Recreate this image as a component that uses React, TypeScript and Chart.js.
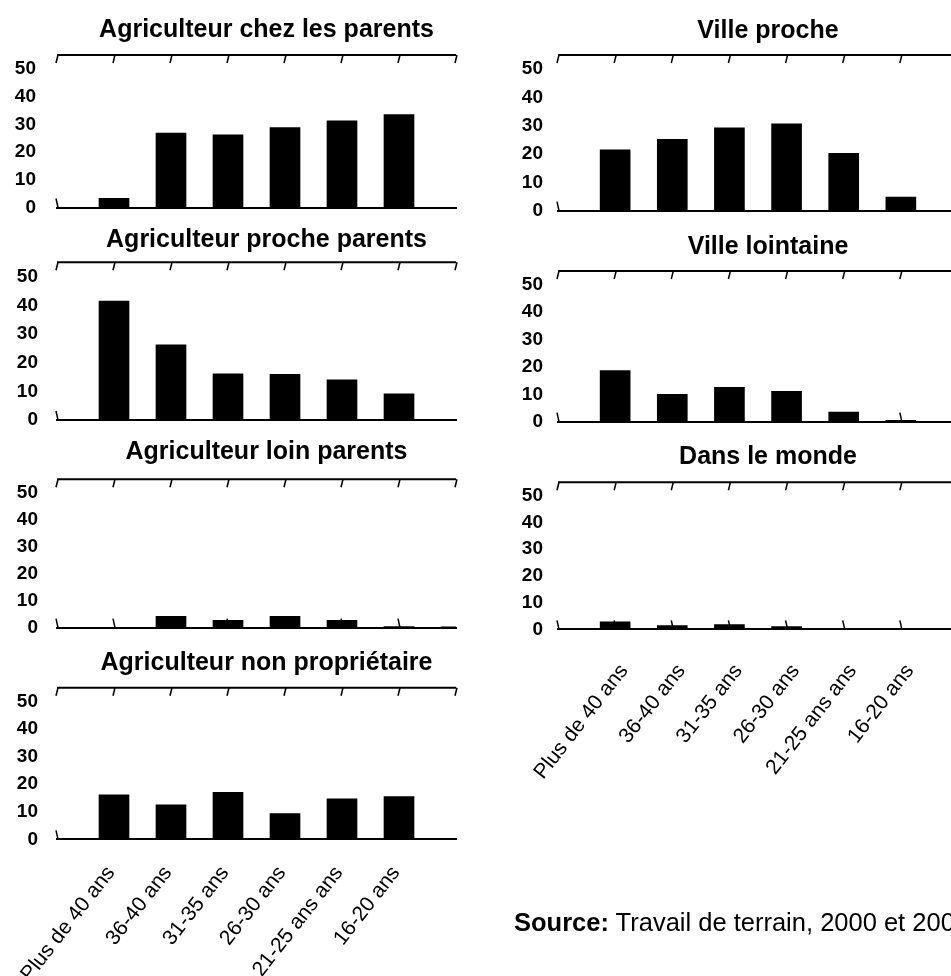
import React, { useEffect, useRef } from "react";
import { Chart, registerables } from "chart.js";

Chart.register(...registerables);

// ---------- data ----------
const categories = [
  "",
  "Plus de 40 ans",
  "36-40 ans",
  "31-35 ans",
  "26-30 ans",
  "21-25 ans ans",
  "16-20 ans",
  "",
];
const yTickValues = [0, 10, 20, 30, 40, 50];
const yMax = 55;

const chezParents = [null, 3.3, 26.8, 26.2, 28.8, 31.3, 33.5, null];
const procheParents = [null, 41.5, 26.2, 16.1, 15.9, 14.0, 9.1, null];
const loinParents = [null, null, 4.2, 2.7, 4.2, 2.7, 0.4, 0.3];
const nonProprietaire = [null, 16.1, 12.5, 17.0, 9.3, 14.7, 15.5, null];
const villeProche = [null, 21.5, 25.2, 29.3, 30.7, 20.3, 4.8, null];
const villeLointaine = [null, 18.7, 10.0, 12.5, 11.1, 3.5, 0.5, null];
const dansLeMonde = [null, 2.8, 1.4, 1.8, 1.0, 0.4, 0.4, null];

const titleChez = "Agriculteur chez les parents";
const titleProche = "Agriculteur proche parents";
const titleLoin = "Agriculteur loin parents";
const titleNonProp = "Agriculteur non propriétaire";
const titleVilleProche = "Ville proche";
const titleVilleLointaine = "Ville lointaine";
const titleMonde = "Dans le monde";

const sourceBold = "Source:";
const sourceText = " Travail de terrain, 2000 et 2001";

// ---------- layout (positions / styles only) ----------
const FONT = "'Liberation Sans', Arial, Helvetica, sans-serif";

type Panel = {
  title: string;
  values: (number | null)[];
  left: number;
  top: number;
  width: number;
  height: number;
  yWidth: number;
  yPad: number;
  padTop: number;
  padRight: number;
  padBottom: number;
  xHeight: number;
  showLabels: boolean;
  labelOffset: number;
  labelPad: number;
  titleY: number;
};

const panels: Panel[] = [
  { title: titleChez, values: chezParents, left: 0, top: 0, width: 480, height: 215, yWidth: 57, yPad: 21, padTop: 55, padRight: 24, padBottom: 7.5, xHeight: 0, showLabels: false, labelOffset: 0, labelPad: 0, titleY: 30 },
  { title: titleProche, values: procheParents, left: 0, top: 215, width: 480, height: 215, yWidth: 57, yPad: 19, padTop: 47.3, padRight: 24, padBottom: 10, xHeight: 0, showLabels: false, labelOffset: 0, labelPad: 0, titleY: 25 },
  { title: titleLoin, values: loinParents, left: 0, top: 430, width: 480, height: 210, yWidth: 57, yPad: 19, padTop: 49.3, padRight: 24, padBottom: 12.3, xHeight: 0, showLabels: false, labelOffset: 0, labelPad: 0, titleY: 21.7 },
  { title: titleNonProp, values: nonProprietaire, left: 0, top: 640, width: 480, height: 336, yWidth: 57, yPad: 19, padTop: 47.7, padRight: 24, padBottom: 0, xHeight: 136.7, showLabels: true, labelOffset: -3, labelPad: 22, titleY: 22.7 },
  { title: titleVilleProche, values: villeProche, left: 500, top: 0, width: 480, height: 220, yWidth: 58, yPad: 15, padTop: 55, padRight: 22, padBottom: 9.3, xHeight: 0, showLabels: false, labelOffset: 0, labelPad: 0, titleY: 30.7 },
  { title: titleVilleLointaine, values: villeLointaine, left: 500, top: 220, width: 480, height: 210, yWidth: 58, yPad: 15, padTop: 51, padRight: 22, padBottom: 8.3, xHeight: 0, showLabels: false, labelOffset: 0, labelPad: 0, titleY: 26.7 },
  { title: titleMonde, values: dansLeMonde, left: 500, top: 430, width: 480, height: 546, yWidth: 58, yPad: 15, padTop: 52.3, padRight: 22, padBottom: 0, xHeight: 346.7, showLabels: true, labelOffset: 9, labelPad: 30, titleY: 26.7 },
];

// ---------- decoration plugin: top line with ticks, bottom ticks, title ----------
const decoPlugin = {
  id: "deco",
  beforeDatasetsDraw(chart: any) {
    const { ctx, chartArea: a } = chart;
    const x = chart.scales.x;
    ctx.save();
    ctx.strokeStyle = "#000";
    ctx.lineWidth = 1.5;
    for (let i = 0; i < categories.length - 1; i++) {
      const px = x.getPixelForValue(i);
      ctx.beginPath();
      ctx.moveTo(px - 1, a.bottom - 9);
      ctx.lineTo(px + 1, a.bottom);
      ctx.stroke();
    }
    ctx.restore();
  },
  afterDraw(chart: any, _args: any, opts: any) {
    const { ctx, chartArea: a } = chart;
    const x = chart.scales.x;
    ctx.save();
    ctx.strokeStyle = "#000";
    ctx.lineWidth = 2;
    ctx.beginPath();
    ctx.moveTo(a.left, a.top);
    ctx.lineTo(a.right, a.top);
    ctx.stroke();
    ctx.lineWidth = 1.5;
    for (let i = 0; i < categories.length; i++) {
      const px = x.getPixelForValue(i);
      ctx.beginPath();
      ctx.moveTo(px + 1, a.top);
      ctx.lineTo(px - 1, a.top + 8);
      ctx.stroke();
    }
    ctx.fillStyle = "#000";
    ctx.font = `bold 25px ${FONT}`;
    ctx.textAlign = "center";
    ctx.textBaseline = "middle";
    ctx.fillText(opts.title, (a.left + a.right) / 2 + 10, opts.titleY);
    ctx.restore();
  },
};

function PanelChart({ p }: { p: Panel }) {
  const ref = useRef<HTMLCanvasElement | null>(null);
  useEffect(() => {
    if (!ref.current) return;
    const chart = new Chart(ref.current, {
      type: "bar",
      data: {
        labels: categories,
        datasets: [
          {
            data: p.values as any,
            backgroundColor: "#000",
            borderWidth: 0,
            barThickness: 30,
            clip: 0,
          } as any,
        ],
      },
      options: {
        animation: false,
        responsive: false,
        maintainAspectRatio: false,
        events: [],
        layout: { padding: { top: p.padTop, right: p.padRight, bottom: p.padBottom, left: 0 } },
        plugins: {
          legend: { display: false },
          tooltip: { enabled: false },
          title: { display: false },
          deco: { title: p.title, titleY: p.titleY },
        } as any,
        scales: {
          x: {
            type: "category",
            offset: false,
            grid: { display: false, drawTicks: false },
            border: { display: true, color: "#000", width: 2 },
            ticks: {
              display: p.showLabels,
              autoSkip: false,
              maxRotation: 52,
              minRotation: 52,
              padding: p.labelPad,
              labelOffset: p.labelOffset,
              color: "#000",
              font: { family: FONT, size: 21 },
            },
            afterFit: (s: any) => {
              s.height = p.xHeight;
              s.paddingLeft = 0;
              s.paddingRight = 0;
            },
          } as any,
          y: {
            min: 0,
            max: yMax,
            grid: { display: false, drawTicks: false },
            border: { display: false },
            afterBuildTicks: (s: any) => {
              s.ticks = yTickValues.map((v) => ({ value: v }));
            },
            ticks: {
              padding: p.yPad,
              color: "#000",
              font: { family: FONT, size: 19, weight: "bold" },
            },
            afterFit: (s: any) => {
              s.width = p.yWidth;
              s.paddingTop = 0;
              s.paddingBottom = 0;
            },
          } as any,
        },
      },
      plugins: [decoPlugin as any],
    });
    return () => chart.destroy();
  }, [p]);
  return (
    <canvas
      ref={ref}
      width={p.width}
      height={p.height}
      style={{ position: "absolute", left: p.left, top: p.top, width: p.width, height: p.height, display: "block" }}
    />
  );
}

export default function App() {
  return (
    <div
      style={{
        position: "absolute",
        left: 0,
        top: 0,
        width: 951,
        height: 976,
        overflow: "hidden",
        background: "#fff",
      }}
    >
      {panels.map((p, i) => (
        <PanelChart key={i} p={p} />
      ))}
      <div
        style={{
          position: "absolute",
          left: 514,
          top: 908,
          whiteSpace: "nowrap",
          fontFamily: FONT,
          fontSize: 25.5,
          color: "#000",
          zIndex: 2,
        }}
      >
        <b>{sourceBold}</b>
        {sourceText}
      </div>
    </div>
  );
}
